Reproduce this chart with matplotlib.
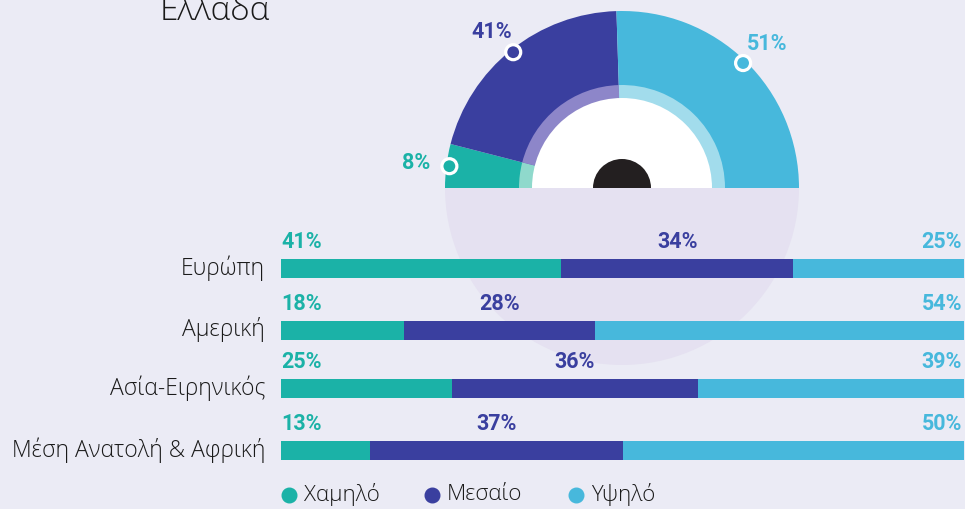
import matplotlib
matplotlib.use("Agg")
import matplotlib.pyplot as plt
from matplotlib.patches import Wedge, Circle
import numpy as np

# ---- data ----
title = "Ελλάδα"
levels = ["Χαμηλό", "Μεσαίο", "Υψηλό"]
greece = [8, 41, 51]
regions = ["Ευρώπη", "Αμερική", "Ασία-Ειρηνικός", "Μέση Ανατολή & Αφρική"]
low = [41, 18, 25, 13]
mid = [34, 28, 36, 37]
high = [25, 54, 39, 50]

colors = ["#1bb2a7", "#3a3f9f", "#47b8dc"]
light_colors = ["#8fd9cc", "#8d86c9", "#a2dcec"]
bg = "#ebebf5"
circle_bg = "#e5e1f1"
txt = "#1a1a1a"
bold_font = ['Roboto', 'DejaVu Sans']

plt.rcParams['font.family'] = ['Open Sans', 'DejaVu Sans']

W, H = 965, 509
fig = plt.figure(figsize=(W / 100, H / 100), dpi=100, facecolor=bg)
ax = fig.add_axes([0, 0, 1, 1])
ax.set_xlim(0, W)
ax.set_ylim(H, 0)
ax.set_aspect('equal')
ax.axis('off')
ax.set_facecolor(bg)

# ---- gauge ----
cx, cy = 622, 188
r_out, r_ring, r_white, r_dot = 177, 103, 90, 29

# lower light circle (behind bars)
ax.add_patch(Wedge((cx, cy), r_out, 0, 180, facecolor=circle_bg, edgecolor='none', zorder=0))

start = 180.0
for i, v in enumerate(greece):
    span = v / 100 * 180
    a0, a1 = start, start + span
    ax.add_patch(Wedge((cx, cy), r_out, a0, a1, facecolor=colors[i], edgecolor='none', zorder=1))
    ax.add_patch(Wedge((cx, cy), r_ring, a0, a1, facecolor=light_colors[i], edgecolor='none', zorder=2))
    mid_a = np.deg2rad((a0 + a1) / 2)
    mx, my = cx + 174 * np.cos(mid_a), cy + 174 * np.sin(mid_a)
    ax.add_patch(Circle((mx, my), 7.5, facecolor=colors[i], edgecolor='white', lw=2.3, zorder=5))
    lx, ly = mx + 34 * np.cos(mid_a), my + 26 * np.sin(mid_a)
    ax.text(lx, ly, f"{v}%", color=colors[i], fontsize=15.5, fontweight='bold',
            family=bold_font, ha='center', va='center', zorder=6)
    start = a1

ax.add_patch(Wedge((cx, cy), r_white, 180, 360, facecolor='white', edgecolor='none', zorder=3))
ax.add_patch(Wedge((cx, cy), r_dot, 180, 360, facecolor='#231f20', edgecolor='none', zorder=4))

# title
ax.text(160, 20, title, fontsize=24, fontweight='light', color=txt, ha='left', va='baseline', zorder=6)

# ---- bars ----
x0, bw = 281, 683
bar_y = [268, 330, 388, 450]
bh = 19
for j, reg in enumerate(regions):
    vals = [low[j], mid[j], high[j]]
    left = x0
    for i, v in enumerate(vals):
        w = v / 100 * bw
        ax.barh(bar_y[j], w, left=left, height=bh, color=colors[i], zorder=5)
        ly = bar_y[j] - 20
        if i == 0:
            xx, ha = left, 'left'
        elif i == 1:
            xx, ha = left + w / 2, 'center'
        else:
            xx, ha = left + w - 2, 'right'
        ax.text(xx, ly, f"{v}%", color=colors[i], ha=ha, va='baseline',
                fontsize=15.5, fontweight='bold', family=bold_font, zorder=6)
        left += w
    ax.text(265, bar_y[j], reg, ha='right', va='center', fontsize=16.5, fontweight='light',
            color=txt, zorder=6)

# ---- legend ----
leg_x = [289, 432, 576]
for i, lab in enumerate(levels):
    ax.plot(leg_x[i], 495, 'o', ms=10.5, color=colors[i], zorder=6)
    ax.text(leg_x[i] + 15, 495, lab, ha='left', va='center', fontsize=16, fontweight='light',
            color=txt, zorder=6)

fig.savefig("out.png", dpi=100, facecolor=bg)
